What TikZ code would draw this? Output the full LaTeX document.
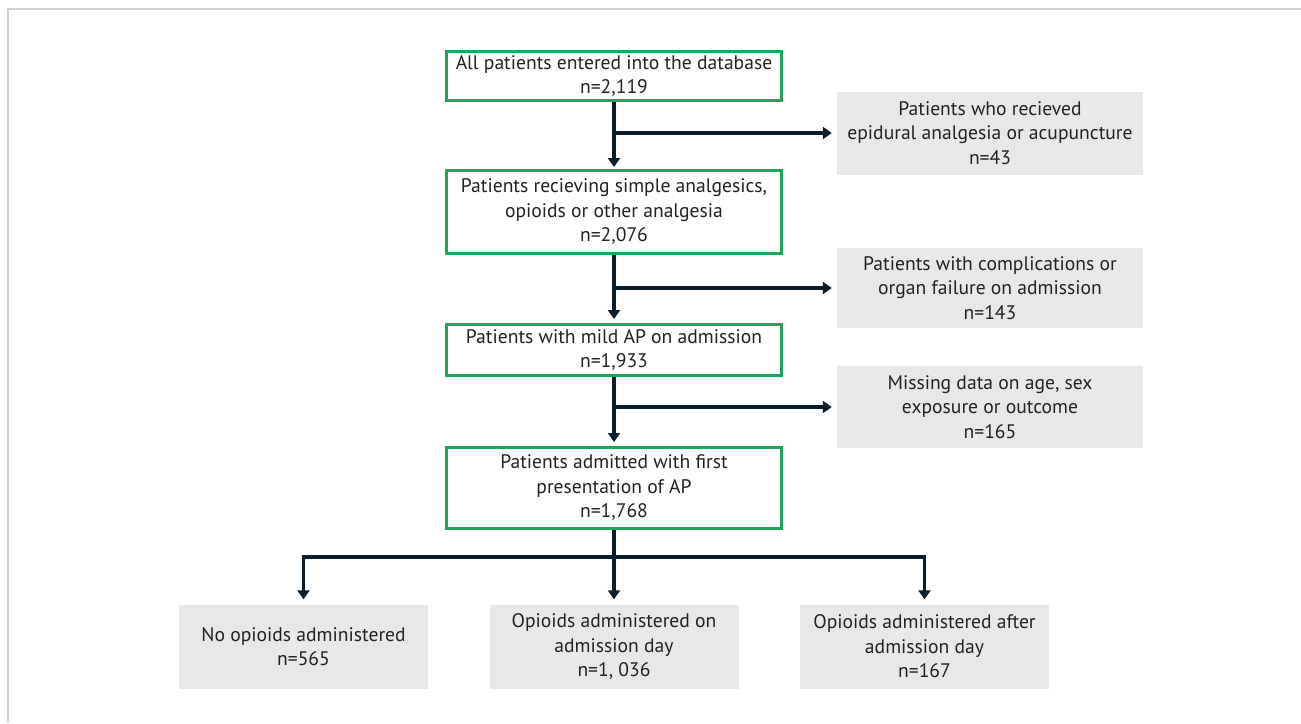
\documentclass[tikz,border=0pt]{standalone}
\usepackage{fontspec}
\setmainfont{PT Sans}
\usetikzlibrary{arrows.meta}

\definecolor{boxgreen}{HTML}{1AA65C}
\definecolor{boxgrey}{HTML}{E8E8E8}
\definecolor{linenavy}{HTML}{0B1C2A}
\definecolor{framegrey}{HTML}{D0D0D0}
\definecolor{textgrey}{HTML}{222222}

\tikzset{
    mainbox/.style={draw=boxgreen, line width=3pt, fill=white, minimum width=335pt,
        align=center, inner sep=0pt, text=textgrey, font=\fontsize{19.6}{24.5}\selectfont},
    exclbox/.style={fill=boxgrey, minimum width=306pt, align=center, inner sep=0pt,
        text=textgrey, font=\fontsize{19.6}{24.5}\selectfont},
    flowline/.style={draw=linenavy, line width=3.3pt,
        -{Triangle[width=12pt,length=9pt]}, shorten >=4pt}
}

\begin{document}
\begin{tikzpicture}[x=1pt, y=-1pt]
    \useasboundingbox (0,0) rectangle (1301,723);
    % frame
    \draw[framegrey, line width=2pt] (7.5,723) -- (7.5,8.5) -- (1301,8.5);

    % main column
    \node[mainbox, minimum height=49pt] (all) at (614,76) {All patients entered into the database\\n=2,119};
    \node[mainbox, minimum height=83pt] (simple) at (614,212) {Patients recieving simple analgesics,\\opioids or other analgesia\\n=2,076};
    \node[mainbox, minimum height=51pt] (mild) at (614,350) {Patients with mild AP on admission\\n=1,933};
    \node[mainbox, minimum height=81pt] (first) at (614,488) {Patients admitted with first\\presentation of AP\\n=1,768};

    % exclusions
    \node[exclbox, minimum height=83pt] (epi) at (990,133) {Patients who recieved\\epidural analgesia or acupuncture\\n=43};
    \node[exclbox, minimum height=80pt] (compl) at (990,288) {Patients with complications or\\organ failure on admission\\n=143};
    \node[exclbox, minimum height=82pt] (miss) at (990,407) {Missing data on age, sex\\exposure or outcome\\n=165};

    % groups
    \node[exclbox, minimum width=249pt, minimum height=84pt] (noop) at (303.5,646.5) {No opioids administered\\n=565};
    \node[exclbox, minimum width=249pt, minimum height=84pt] (onday) at (614,646.5) {Opioids administered on\\admission day\\n=1, 036};
    \node[exclbox, minimum width=249pt, minimum height=84pt] (afterday) at (924.5,646.5) {Opioids administered after\\admission day\\n=167};

    % branch points
    \coordinate (b1) at (614,133);
    \coordinate (b2) at (614,288);
    \coordinate (b3) at (614,407);
    \coordinate (split) at (614,557);

    % arrows
    \draw[flowline, shorten >=2pt] (all) -- (simple);
    \draw[flowline] (simple) -- (mild);
    \draw[flowline] (mild) -- (first);
    \draw[flowline, shorten >=5pt] (b1) -- (epi.west);
    \draw[flowline, shorten >=5pt] (b2) -- (compl.west);
    \draw[flowline, shorten >=5pt] (b3) -- (miss.west);
    \draw[flowline, shorten >=5pt] (first.south) -- (onday.north);
    \draw[flowline, shorten >=5pt] (split) -| (noop.north);
    \draw[flowline, shorten >=5pt] (split) -| (afterday.north);
\end{tikzpicture}
\end{document}
